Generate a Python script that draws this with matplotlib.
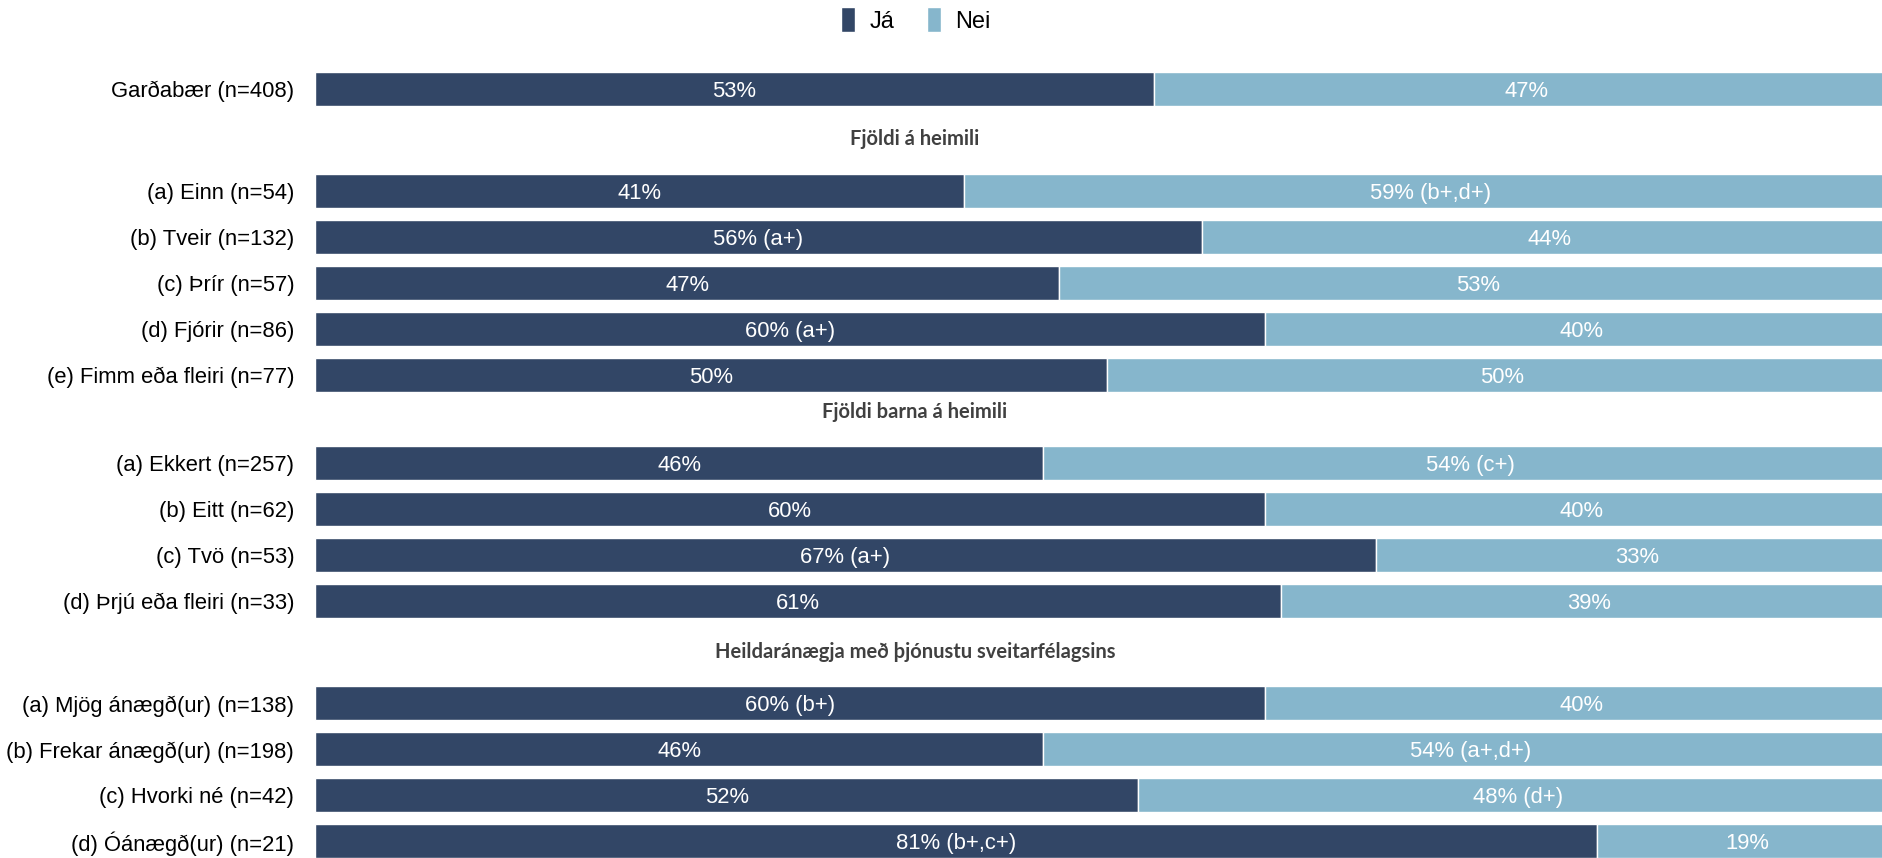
import matplotlib.pyplot as plt
import numpy as np

plt.rcParams['font.family'] = ['Liberation Sans', 'DejaVu Sans']

# data
total_label = 'Garðabær (n=408)'
total_ja = 53
total_ja_note = ''
total_nei_note = ''

sections = ['Fjöldi á heimili', 'Fjöldi barna á heimili',
            'Heildaránægja með þjónustu sveitarfélagsins']

labels_1 = ['(a) Einn (n=54)', '(b) Tveir (n=132)', '(c) Þrír (n=57)',
            '(d) Fjórir (n=86)', '(e) Fimm eða fleiri (n=77)']
ja_1 = [41, 56, 47, 60, 50]
ja_note_1 = ['', '(a+)', '', '(a+)', '']
nei_note_1 = ['(b+,d+)', '', '', '', '']

labels_2 = ['(a) Ekkert (n=257)', '(b) Eitt (n=62)', '(c) Tvö (n=53)',
            '(d) Þrjú eða fleiri (n=33)']
ja_2 = [46, 60, 67, 61]
ja_note_2 = ['', '', '(a+)', '']
nei_note_2 = ['(c+)', '', '', '']

labels_3 = ['(a) Mjög ánægð(ur) (n=138)', '(b) Frekar ánægð(ur) (n=198)',
            '(c) Hvorki né (n=42)', '(d) Óánægð(ur) (n=21)']
ja_3 = [60, 46, 52, 81]
ja_note_3 = ['(b+)', '', '', '(b+,c+)']
nei_note_3 = ['', '(a+,d+)', '(d+)', '']

groups = [(labels_1, ja_1, ja_note_1, nei_note_1),
          (labels_2, ja_2, ja_note_2, nei_note_2),
          (labels_3, ja_3, ja_note_3, nei_note_3)]

c_ja = '#324666'
c_nei = '#86b6cc'

# layout: gap before each section header
header_gap = [1.1, 0.8, 1.1]
row_gap = 1.12

names, ja, ja_notes, nei_notes, ypos = [total_label], [total_ja], [total_ja_note], [total_nei_note], [0.0]
header_y = []
cur = 0.0
for k, (lab, j, jn, nn) in enumerate(groups):
    cur += header_gap[k]
    header_y.append(cur)
    cur += row_gap
    for i in range(len(lab)):
        names.append(lab[i]); ja.append(j[i])
        ja_notes.append(jn[i]); nei_notes.append(nn[i])
        ypos.append(cur)
        cur += 1.0
    cur -= 1.0

ja = np.array(ja)
nei = 100 - ja
ypos = np.array(ypos)

fig = plt.figure(figsize=(18.83, 8.58), dpi=100)
ax = fig.add_axes([315 / 1883, 0, 1 - 315 / 1883, 1])

h = 0.74
ax.barh(ypos, ja, height=h, color=c_ja, edgecolor='white', linewidth=1, label='Já')
ax.barh(ypos, nei, left=ja, height=h, color=c_nei, edgecolor='white', linewidth=1, label='Nei')

for y, a, b, na, nb in zip(ypos, ja, nei, ja_notes, nei_notes):
    ta = f'{a}%' + (f' {na}' if na else '')
    tb = f'{b}%' + (f' {nb}' if nb else '')
    ax.text(a / 2, y, ta, ha='center', va='center_baseline', color='white', fontsize=15.8)
    ax.text(a + b / 2, y, tb, ha='center', va='center_baseline', color='white', fontsize=15.8)

hx = (915 - 315) / (1883 - 315) * 99.05
for hy, s in zip(header_y, sections):
    ax.text(hx, hy, s, ha='center', va='center', color='#404040',
            fontsize=14.5, fontweight='bold', family='Lato')

ax.set_xlim(0, 99.05)
ax.set_ylim(16.72, -1.93)
ax.set_yticks(ypos)
ax.set_yticklabels(names, fontsize=15.8, va='center_baseline')
ax.tick_params(axis='y', length=0, pad=15)
ax.set_xticks([])
for s in ax.spines.values():
    s.set_visible(False)

fig.legend(loc='center', bbox_to_anchor=(916 / 1883, 1 - 20 / 858), ncol=2, frameon=False,
           fontsize=17, handlelength=0.6, handleheight=1.2, handletextpad=0.6,
           columnspacing=1.4)

fig.savefig('out.png', dpi=100)
